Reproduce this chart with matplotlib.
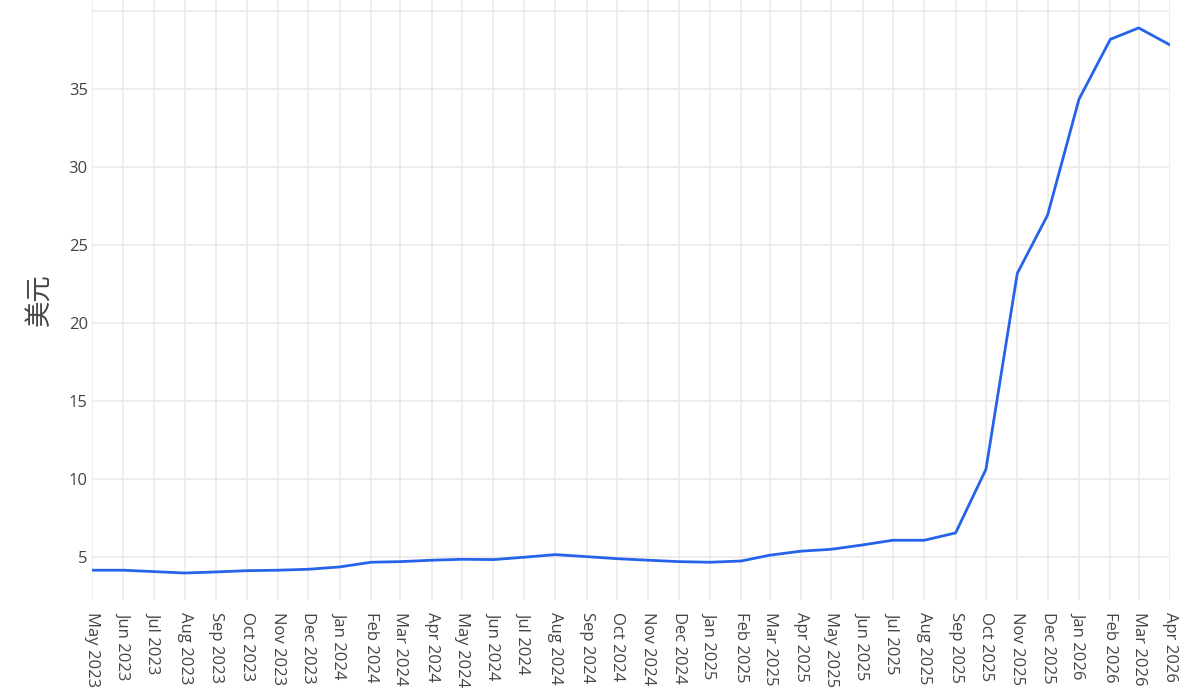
import matplotlib.pyplot as plt
import matplotlib.dates as mdates
import numpy as np
import pandas as pd

# monthly price, May 2023 .. Apr 2026
months = pd.date_range("2023-05-01", "2026-04-01", freq="MS")
price = [4.17, 4.17, 4.08, 3.99, 4.06, 4.14, 4.17, 4.23,
         4.38, 4.68, 4.72, 4.81, 4.87, 4.85, 5.00, 5.17,
         5.04, 4.91, 4.81, 4.72, 4.68, 4.76, 5.13, 5.39,
         5.51, 5.79, 6.09, 6.09, 6.56, 10.64, 23.2, 26.94,
         34.36, 38.2, 38.93, 37.84]
y_ticks = [5, 10, 15, 20, 25, 30, 35, 40]
y_ticklabels = ["5", "10", "15", "20", "25", "30", "35", ""]
y_title = "美元"

plt.rcParams['font.family'] = ['Open Sans', 'Noto Sans CJK SC', 'DejaVu Sans']

W, H = 1204, 699
fig = plt.figure(figsize=(W / 100, H / 100), dpi=100)
ax = fig.add_axes([92 / W, 99 / H, (1170 - 92) / W, 600 / H])

ax.plot(months, price, color="#2563eb", lw=2.0, solid_joinstyle="round", zorder=3)

ax.set_xlim(months[0], months[-1])
ax.set_ylim(2.26, 40.72)
ax.set_xticks(months)
ax.xaxis.set_major_formatter(mdates.DateFormatter("%b %Y"))
ax.set_yticks(y_ticks)
ax.set_yticklabels(y_ticklabels)

ax.grid(True, color="#ebebeb", lw=1.2, zorder=0)
ax.set_axisbelow(True)
for s in ax.spines.values():
    s.set_visible(False)

ax.tick_params(axis="both", length=0, colors="#444444", labelsize=12)
ax.tick_params(axis="y", pad=3)
ax.tick_params(axis="x", pad=9)
for lab in ax.get_xticklabels():
    lab.set_rotation(-90)
    lab.set_ha("center")
    lab.set_va("top")

ax.set_ylabel(y_title, fontsize=19, color="#444444",
              family=['Noto Sans CJK SC', 'DejaVu Sans'], labelpad=11)

fig.savefig("out.png", dpi=100)
